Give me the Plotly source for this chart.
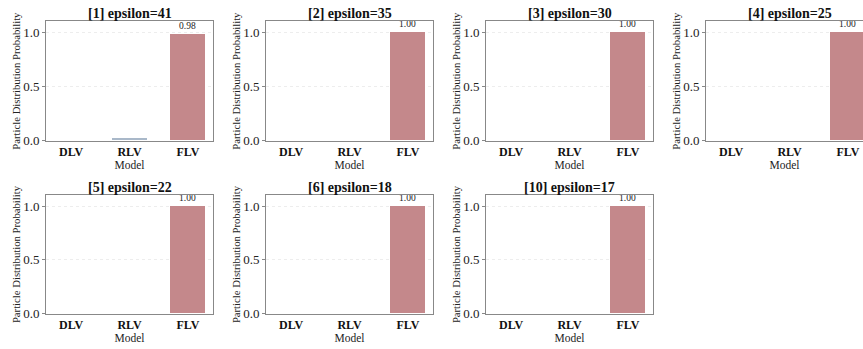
import plotly.graph_objects as go

W, H = 863, 349

models = ["DLV", "RLV", "FLV"]
titles = ["[1] epsilon=41", "[2] epsilon=35", "[3] epsilon=30", "[4] epsilon=25",
          "[5] epsilon=22", "[6] epsilon=18", "[10] epsilon=17"]
probs = [
    [0.00, 0.02, 0.98],
    [0.00, 0.00, 1.00],
    [0.00, 0.00, 1.00],
    [0.00, 0.00, 1.00],
    [0.00, 0.00, 1.00],
    [0.00, 0.00, 1.00],
    [0.00, 0.00, 1.00],
]
bar_colors = ["#8fb89a", "#a9b8c9", "#c4888b"]

# panel pixel geometry (left, right, top, bottom)
col_left = [46, 266, 486, 706]
panel_w = 167
row_tb = [(22, 144), (200, 321)]
x_lo, x_hi = -0.43, 2.43
px_per_unit = panel_w / (x_hi - x_lo)

FONT = "Liberation Serif"
fig = go.Figure()

for i, (title, vals) in enumerate(zip(titles, probs)):
    r, c = divmod(i, 4)
    left = col_left[c]
    right = min(left + panel_w, W)
    top, bot = row_tb[r]
    ax = "" if i == 0 else str(i + 1)
    xr = [x_lo, x_lo + (right - left) / px_per_unit]
    cut = (left + panel_w) > W
    texts = [f"{v:.2f}" if v >= 0.05 else "" for v in vals]
    fig.add_trace(go.Bar(
        x=list(range(3)), y=vals, width=0.6,
        marker=dict(color=bar_colors, line=dict(width=0)),
        text=texts, textposition="outside", cliponaxis=False,
        textfont=dict(family=FONT, size=9.5, color="#222"),
        xaxis="x" + ax, yaxis="y" + ax, showlegend=False, hoverinfo="skip",
    ))
    fig.layout["xaxis" + ax] = dict(
        domain=[left / W, right / W], anchor="y" + ax, range=xr,
        tickvals=list(range(3)), ticktext=models,
        tickfont=dict(family=FONT, size=12, color="#111", weight="bold"),
        showline=True, linecolor="#888", linewidth=1, mirror=True,
        ticks="",
        showgrid=False, zeroline=False,
        title=dict(text="Model", font=dict(family=FONT, size=11.5, color="#222"), standoff=1),
    )
    fig.layout["yaxis" + ax] = dict(
        domain=[1 - bot / H, 1 - top / H], anchor="x" + ax, range=[0, 1.1],
        tickvals=[0, 0.5, 1.0], ticktext=["0.0", "0.5", "1.0"],
        tickfont=dict(family=FONT, size=13, color="#222"),
        showline=True, linecolor="#888", linewidth=1, mirror=not cut,
        ticks="outside", ticklen=3, tickcolor="#888",
        showgrid=True, gridcolor="#ededed", griddash="dot", gridwidth=1,
        zeroline=False,
        title=dict(text="Particle Distribution Probability",
                   font=dict(family=FONT, size=10.7, color="#222"), standoff=0),
    )
    fig.add_annotation(
        x=(left + panel_w / 2) / W, y=1 - top / H, xref="paper", yref="paper",
        xanchor="center", yanchor="bottom", yshift=-2, showarrow=False,
        text=f"<b>{title}</b>", font=dict(family=FONT, size=14, color="#111"),
    )

fig.update_layout(
    width=W, height=H, margin=dict(l=0, r=0, t=0, b=0),
    paper_bgcolor="white", plot_bgcolor="white", bargap=0,
)
fig.write_html("out.html", config={"displayModeBar": False},
               post_script="document.body.style.margin='0';document.body.style.overflow='hidden';")
